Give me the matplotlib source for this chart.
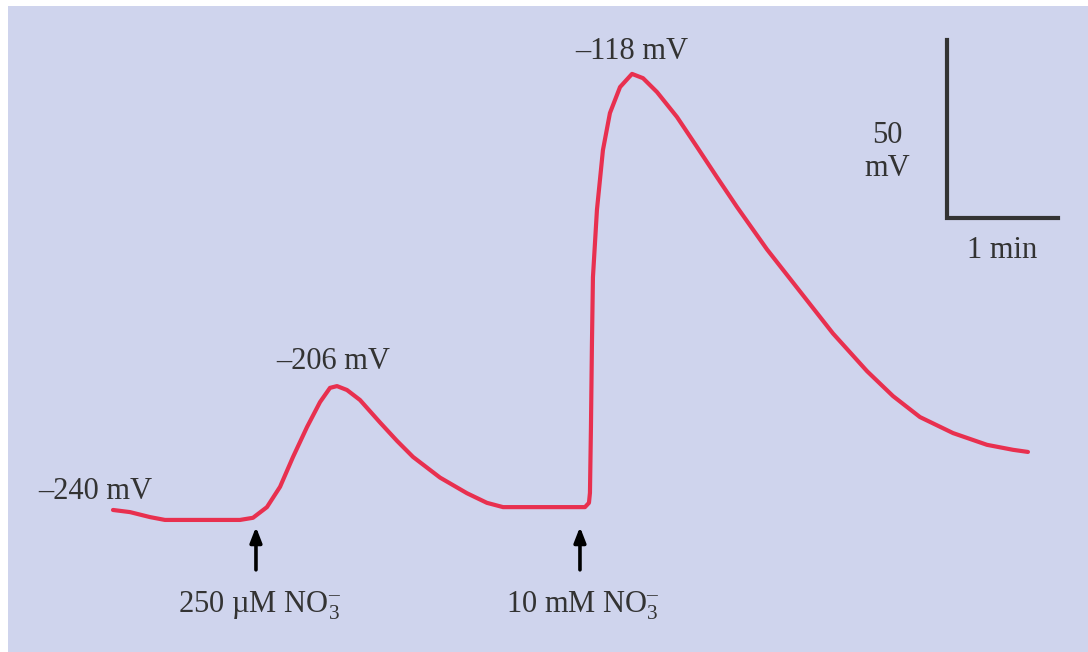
import matplotlib
matplotlib.use("Agg")
import matplotlib.pyplot as plt
from matplotlib.patches import Rectangle

plt.rcParams['font.family'] = ['Liberation Serif', 'DejaVu Serif']
plt.rcParams['mathtext.fontset'] = 'custom'
plt.rcParams['mathtext.rm'] = 'Liberation Serif'
plt.rcParams['mathtext.it'] = 'Liberation Serif:italic'

# membrane potential trace: time (min) vs potential (mV)
time_min = [0.000, 0.153, 0.333, 0.468, 1.144, 1.261, 1.387, 1.505, 1.622, 1.748,
            1.865, 1.955, 2.018, 2.108, 2.225, 2.405, 2.559, 2.703, 2.946, 3.189,
            3.369, 3.514, 4.252, 4.288, 4.297, 4.306, 4.315, 4.324, 4.360, 4.414,
            4.477, 4.568, 4.676, 4.775, 4.901, 5.081, 5.261, 5.441, 5.622,
            5.892, 6.189, 6.486, 6.793, 7.027, 7.270, 7.568, 7.874, 8.108, 8.243]
potential_mv = [-240.0, -240.6, -242.0, -242.8, -242.8, -242.2, -239.2, -233.5, -225.1, -216.7,
                -209.7, -205.7, -205.2, -206.3, -209.1, -215.4, -220.6, -225.1, -230.9, -235.3,
                -238.0, -239.2, -239.2, -238.0, -235.2, -216.7, -193.1, -174.6, -155.7, -138.9,
                -128.5, -121.2, -117.5, -118.7, -122.6, -129.6, -138.0, -146.5, -154.9,
                -166.8, -178.6, -190.4, -201.0, -208.0, -213.9, -218.4, -221.7, -223.1, -223.7]

# nitrate additions
add_times = [1.288, 4.207]
add_labels = [r'250 µM NO$_3^{\text{–}}$', r'10 mM NO$_3^{\text{–}}$']

# annotated potentials
peak_labels = ['–240 mV', '–206 mV', '–118 mV']
peak_pos = [(-0.162, -234.7), (1.982, -198.4), (4.676, -111.3)]

fig = plt.figure(figsize=(10.88, 6.52), dpi=100)
ax = fig.add_axes([0, 0, 1, 1])
ax.set_facecolor('none')
ax.set_xlim(-1.018, 8.784)
ax.set_ylim(-279.9, -96.74)
ax.axis('off')
ax.add_patch(Rectangle((8 / 1088, 0), 1, 646 / 652, transform=ax.transAxes,
                       facecolor='#cfd4ed', edgecolor='none', zorder=0))

ax.plot(time_min, potential_mv, color='#e8304f', lw=3, solid_joinstyle='round',
        solid_capstyle='round', zorder=3)

txt = '#333333'
fs = 22
for lab, (x, y) in zip(peak_labels, peak_pos):
    ax.text(x, y, lab, fontsize=fs, color=txt, ha='center', va='center')

for t, lab in zip(add_times, add_labels):
    ax.annotate('', xy=(t, -244.0), xytext=(t, -257.6),
                arrowprops=dict(arrowstyle='-|>,head_length=0.9,head_width=0.35',
                                color='black', lw=2.6))
    ax.text(t + 0.03, -266.8, lab, fontsize=fs, color=txt, ha='center', va='center')

# scale bar
x0, y0 = 7.514, -158.0
ax.plot([x0, x0, x0 + 1], [y0 + 50, y0, y0], color=txt, lw=3, solid_joinstyle='miter')
ax.text(6.973, -139.4, '50\nmV', fontsize=fs, color=txt, ha='center', va='center',
        linespacing=1.15)
ax.text(8.009, -167.0, '1 min', fontsize=fs, color=txt, ha='center', va='center')

fig.savefig('out.png', dpi=100)
